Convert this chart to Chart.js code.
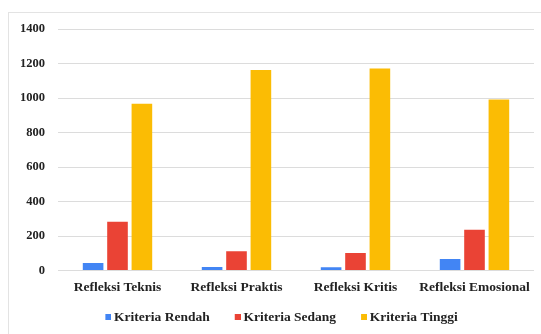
<!DOCTYPE html>
<html>
<head>
<meta charset="utf-8">
<script src="https://cdn.jsdelivr.net/npm/chart.js@4/dist/chart.umd.min.js"></script>
<style>
  html, body { margin: 0; padding: 0; background: #fff; }
  body { width: 541px; height: 334px; position: relative; overflow: hidden; }
  .frame { position: absolute; left: 8px; top: 12px; width: 540px; height: 330px; border: 1px solid #e3e3e3; }
  .wrap { position: absolute; left: 0; top: 0; width: 541px; height: 334px; }
</style>
</head>
<body>
<div class="frame"></div>
<div class="wrap"><canvas id="refleksiChart"></canvas></div>
<script>
const categories = ['Refleksi Teknis', 'Refleksi Praktis', 'Refleksi Kritis', 'Refleksi Emosional'];
const rendah = [44, 21, 19, 67];
const sedang = [282, 111, 102, 236];
const tinggi = [966, 1162, 1171, 991];
const colors = ['#4285f4', '#ea4335', '#fbbc04'];

const serif = "'Liberation Serif', 'Times New Roman', 'DejaVu Serif', serif";
const labelFont = { family: serif, size: 13.5, weight: 'bold' };

// legend marker: small square sitting at the right end of a wider transparent strip,
// so the items get extra room between them without a tall legend box
function legendMark(color) {
  const c = document.createElement('canvas');
  c.width = 21;
  c.height = 6;
  const g = c.getContext('2d');
  g.fillStyle = color;
  g.fillRect(15, 0, 6, 6);
  return c;
}
const marks = colors.map(legendMark);

const ctx = document.getElementById('refleksiChart').getContext('2d');

new Chart(ctx, {
  type: 'bar',
  data: {
    labels: categories,
    datasets: [
      { label: 'Kriteria Rendah', data: rendah, backgroundColor: colors[0] },
      { label: 'Kriteria Sedang', data: sedang, backgroundColor: colors[1] },
      { label: 'Kriteria Tinggi', data: tinggi, backgroundColor: colors[2] }
    ]
  },
  options: {
    responsive: true,
    maintainAspectRatio: false,
    animation: false,
    layout: {
      padding: { left: 18, right: 7, top: 29, bottom: 0 }
    },
    datasets: {
      bar: {
        categoryPercentage: 0.615,
        barPercentage: 0.845
      }
    },
    scales: {
      x: {
        afterFit: scale => { scale.height = 26; },
        grid: { display: false, drawTicks: false },
        border: { display: false },
        ticks: {
          color: '#222',
          font: labelFont,
          padding: 9
        }
      },
      y: {
        min: 0,
        max: 1400,
        afterFit: scale => { scale.width = 40; },
        grid: { color: '#dcdcdc', drawTicks: false },
        border: { display: false },
        ticks: {
          stepSize: 200,
          color: '#222',
          font: { family: serif, size: 12.5, weight: 'bold' },
          padding: 13,
          callback: v => String(v)
        }
      }
    },
    plugins: {
      legend: {
        position: 'bottom',
        labels: {
          color: '#222',
          font: labelFont,
          usePointStyle: true,
          pointStyleWidth: 13,
          padding: 14,
          generateLabels: chart =>
            Chart.defaults.plugins.legend.labels.generateLabels(chart)
              .map((item, i) => ({ ...item, pointStyle: marks[i] }))
        }
      },
      tooltip: { enabled: false }
    }
  }
});
</script>
</body>
</html>
